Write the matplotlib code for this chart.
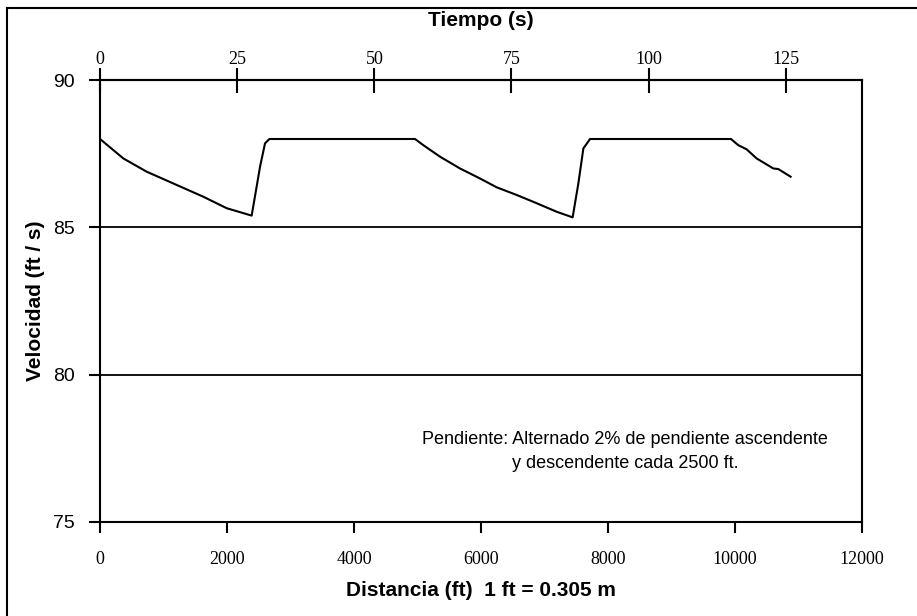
import matplotlib
matplotlib.use("Agg")
from matplotlib import pyplot as plt
from matplotlib.lines import Line2D

# speed profile along the test section (distance in ft, speed in ft/s)
distance_ft = [0, 367, 735, 1207, 1627, 1995, 2388, 2520, 2598, 2667,
               4961, 5092, 5354, 5669, 5984, 6247, 6562, 6877, 7192, 7443,
               7533, 7612, 7717, 9937, 10052, 10183, 10341, 10603, 10682, 10876]
speed_fps = [88.0, 87.34, 86.89, 86.44, 86.04, 85.65, 85.40, 87.06, 87.85, 88.0,
             88.0, 87.79, 87.40, 87.0, 86.66, 86.36, 86.10, 85.82, 85.53, 85.34,
             86.49, 87.68, 88.0, 88.0, 87.79, 87.65, 87.34, 87.0, 86.98, 86.72]

dist_ticks = [0, 2000, 4000, 6000, 8000, 10000, 12000]
speed_ticks = [75, 80, 85, 90]
time_ticks = [0, 25, 50, 75, 100, 125]
mean_speed = 86.4  # ft/s, converts distance to elapsed time on the top axis

sans = ["Liberation Sans Narrow", "Liberation Sans", "DejaVu Sans"]
serif = ["Liberation Serif", "DejaVu Serif"]

fig = plt.figure(figsize=(9.17, 6.16), dpi=100)
ax = fig.add_axes([0.1091, 0.1526, 0.8309, 0.7174])

ax.plot(distance_ft, speed_fps, color="black", lw=1.5)
for v in [80, 85]:
    ax.axhline(v, color="black", lw=1.3)

ax.set_xlim(0, 12000)
ax.set_ylim(75, 90)
ax.set_xticks(dist_ticks)
ax.set_yticks(speed_ticks)
ax.set_xticklabels([str(t) for t in dist_ticks], family=serif, fontsize=13)
ax.set_yticklabels([str(t) for t in speed_ticks], family=sans, fontsize=14)
ax.tick_params(axis="x", direction="out", length=8, width=1.5, pad=13)
ax.tick_params(axis="y", direction="out", length=8, width=1.5, pad=10)
for s in ax.spines.values():
    s.set_linewidth(1.5)

ax.set_xlabel("Distancia (ft)  1 ft = 0.305 m", family=sans, fontsize=15,
              fontweight="bold", labelpad=9)
ax.set_ylabel("Velocidad (ft / s)", family=sans, fontsize=15,
              fontweight="bold", labelpad=6)

top = ax.secondary_xaxis("top", functions=(lambda d: d / mean_speed,
                                           lambda t: t * mean_speed))
top.set_xticks(time_ticks)
top.set_xticklabels([str(t) for t in time_ticks], family=serif, fontsize=13)
top.tick_params(direction="inout", length=18, width=1.5, pad=0)
top.spines["top"].set_linewidth(1.5)
top.set_xlabel("Tiempo (s)", family=sans, fontsize=15, fontweight="bold",
               labelpad=18)

ax.text(8270, 77.4, "Pendiente: Alternado 2% de pendiente ascendente\n"
        "y descendente cada 2500 ft.", ha="center", va="center",
        family=sans, fontsize=13, linespacing=1.5)

# frame around the figure (left and top edges)
fig.add_artist(Line2D([0.0076, 0.0076], [0.0, 0.987], color="black", lw=1.5))
fig.add_artist(Line2D([0.0076, 1.0], [0.987, 0.987], color="black", lw=1.5))

fig.savefig("out.png", dpi=100)
